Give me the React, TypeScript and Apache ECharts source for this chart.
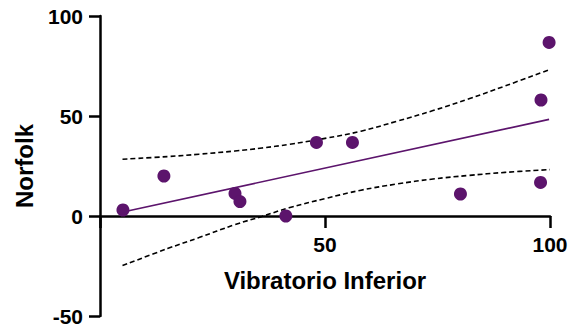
import React, { useEffect, useRef } from "react";
import * as echarts from "echarts";

const pointX = [5.1, 14.2, 30.0, 31.1, 41.3, 48.1, 56.1, 80.1, 97.9, 98.0, 99.8];
const pointY = [3.0, 20.0, 11.3, 7.2, 0.0, 36.8, 36.8, 11.0, 16.8, 58.0, 86.8];

const fitX = [5.1, 99.8];
const fitY = [2.0, 48.3];

const bandX = [5, 15, 22, 30, 36, 42, 50, 58, 66, 74, 82, 90, 100];
const upperY = [28.4, 29.7, 30.9, 32.5, 34.0, 35.8, 38.8, 42.4, 47.4, 52.7, 58.6, 65.0, 73.3];
const lowerY = [-24.8, -16.3, -10.8, -4.3, -0.2, 4.1, 8.7, 12.9, 16.0, 18.5, 20.3, 21.8, 23.2];

const xTicks = [0, 50, 100];
const yTicks = [-50, 0, 50, 100];

const PURPLE = "#5c146c";
const FONT = "Arial, 'Liberation Sans', sans-serif";

const GRID_TOP = 16;
const GRID_BOTTOM = 10;
const CHART_W = 569;
const CHART_H = 326;

export default function App() {
  const ref = useRef<HTMLDivElement>(null);
  useEffect(() => {
    if (!ref.current) return;
    const chart = echarts.init(ref.current, undefined, { renderer: "svg" });
    const pair = (xs: number[], ys: number[]) => xs.map((x, i) => [x, ys[i]]);
    const yMin = yTicks[0];
    const yMax = yTicks[yTicks.length - 1];
    const plotH = CHART_H - GRID_TOP - GRID_BOTTOM;
    // shift the x axis up so that it crosses the y axis at 0
    const zeroOffset = -((0 - yMin) / (yMax - yMin)) * plotH;
    chart.setOption({
      animation: false,
      backgroundColor: "#ffffff",
      grid: {
        left: 100,
        right: 19,
        top: GRID_TOP,
        bottom: GRID_BOTTOM,
        containLabel: false,
        outerBoundsMode: "none",
      },
      xAxis: {
        type: "value",
        min: xTicks[0],
        max: xTicks[xTicks.length - 1],
        interval: 50,
        position: "bottom",
        offset: zeroOffset,
        name: "Vibratorio Inferior",
        nameLocation: "middle",
        nameGap: 52,
        nameTextStyle: { color: "#000", fontSize: 24, fontWeight: "bold", fontFamily: FONT },
        axisLine: { onZero: false, lineStyle: { color: "#000", width: 2.5 } },
        axisTick: { show: true, length: 12, lineStyle: { color: "#000", width: 2.5 } },
        axisLabel: {
          color: "#000",
          fontSize: 21,
          fontWeight: "bold",
          fontFamily: FONT,
          margin: 18,
          hideOverlap: false,
          formatter: (v: number) => (v === 0 ? "" : String(v)),
        },
        splitLine: { show: false },
      },
      yAxis: {
        type: "value",
        min: yMin,
        max: yMax,
        interval: 50,
        name: "Norfolk",
        nameLocation: "middle",
        nameGap: 64,
        nameTextStyle: { color: "#000", fontSize: 24, fontWeight: "bold", fontFamily: FONT },
        axisLine: { show: true, onZero: false, lineStyle: { color: "#000", width: 2.5 } },
        axisTick: { show: true, length: 11, lineStyle: { color: "#000", width: 2.5 } },
        axisLabel: {
          color: "#000",
          fontSize: 21,
          fontWeight: "bold",
          fontFamily: FONT,
          margin: 17,
        },
        splitLine: { show: false },
      },
      series: [
        {
          type: "line",
          data: pair(bandX, upperY),
          smooth: 0.4,
          symbol: "none",
          lineStyle: { color: "#000", width: 1.6, type: [5, 3] },
          z: 2,
        },
        {
          type: "line",
          data: pair(bandX, lowerY),
          smooth: 0.4,
          symbol: "none",
          lineStyle: { color: "#000", width: 1.6, type: [5, 3] },
          z: 2,
        },
        {
          type: "line",
          data: pair(fitX, fitY),
          symbol: "none",
          lineStyle: { color: PURPLE, width: 1.6 },
          z: 3,
        },
        {
          type: "scatter",
          data: pair(pointX, pointY),
          symbol: "circle",
          symbolSize: 13,
          itemStyle: { color: PURPLE, opacity: 1 },
          z: 4,
        },
      ],
    });
    return () => chart.dispose();
  }, []);
  return (
    <div
      ref={ref}
      style={{ position: "fixed", left: 0, top: 0, width: CHART_W, height: CHART_H }}
    />
  );
}
